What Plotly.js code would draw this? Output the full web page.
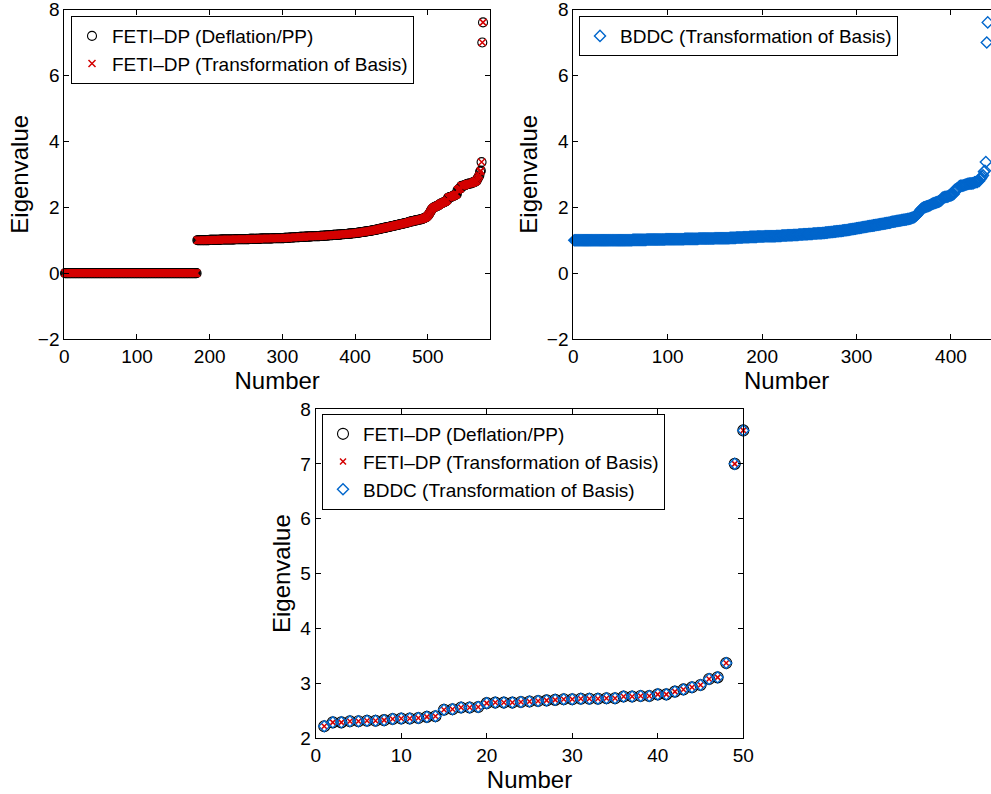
<!DOCTYPE html>
<html><head><meta charset="utf-8">
<script src="https://cdn.plot.ly/plotly-3.0.1.min.js"></script>
<style>html,body{margin:0;padding:0;overflow:hidden;background:#fff}#plot{width:1000px;height:794px}</style>
</head><body><div id="plot"></div>
<script>
// ---- data ----
// FETI-DP: zero eigenvalues at the start of the spectrum
const fetiZeroEigs = [
0,0,0,0,0,0,0,0,0,0, 0,0,0,0,0,0,0,0,0,0, 0,0,0,0,0,0,0,0,0,0, 0,0,0,0,0,0,0,0,0,0,
0,0,0,0,0,0,0,0,0,0, 0,0,0,0,0,0,0,0,0,0, 0,0,0,0,0,0,0,0,0,0, 0,0,0,0,0,0,0,0,0,0,
0,0,0,0,0,0,0,0,0,0, 0,0,0,0,0,0,0,0,0,0, 0,0,0,0,0,0,0,0,0,0, 0,0,0,0,0,0,0,0,0,0,
0,0,0,0,0,0,0,0,0,0, 0,0,0,0,0,0,0,0,0,0, 0,0,0,0,0,0,0,0,0,0, 0,0,0,0,0,0,0,0,0,0,
0,0,0,0,0,0,0,0,0,0, 0,0,0,0,0,0,0,0,0,0, 0,0
];
// BDDC: additional eigenvalues equal to one at the start of its spectrum
const bddcUnitEigs = [
1.00,1.00,1.00,1.00,1.00,1.00,1.00,1.00,1.00,1.00,
1.00,1.00,1.00,1.00,1.00,1.00,1.00,1.00,1.00,1.00,
1.00,1.00,1.00,1.00,1.00,1.00,1.00,1.00,1.00,1.00,
1.00,1.00,1.00,1.00,1.00,1.00,1.00,1.00,1.00,1.00,
1.00,1.00,1.00,1.00,1.00
];
// common (nonzero) part of both spectra, below the 50 largest
const sharedEigs = [
1.00,1.00,1.00,1.00,1.00,1.00,1.00,1.00,1.00,1.00,1.00,1.00,1.00,1.00,1.00,1.00,1.00,
1.01,1.01,1.01,1.01,1.01,1.01,1.01,1.01,1.01,1.01,
1.01,1.01,1.01,1.01,1.01,1.02,1.02,1.02,1.02,1.02,
1.02,1.02,1.02,1.02,1.02,1.02,1.02,1.02,1.02,1.02,
1.02,1.02,1.02,1.02,1.02,1.03,1.03,1.03,1.03,1.03,
1.03,1.03,1.03,1.03,1.03,1.03,1.03,1.03,1.03,1.03,
1.03,1.03,1.03,1.03,1.03,1.04,1.04,1.04,1.04,1.04,
1.04,1.04,1.04,1.04,1.04,1.04,1.04,1.04,1.04,1.04,
1.05,1.05,1.05,1.05,1.05,1.05,1.05,1.05,1.05,1.05,
1.05,1.05,1.05,1.05,1.05,1.05,1.05,1.06,1.06,1.06,
1.06,1.06,1.06,1.06,1.06,1.06,1.06,1.06,1.06,1.06,
1.06,1.06,1.06,1.07,1.07,1.07,1.07,1.07,1.07,1.07,
1.08,1.08,1.08,1.08,1.08,1.08,1.08,1.09,1.09,1.09,
1.09,1.09,1.09,1.09,1.10,1.10,1.10,1.10,1.10,1.10,
1.10,1.10,1.11,1.11,1.11,1.11,1.11,1.11,1.11,1.11,
1.12,1.12,1.12,1.12,1.12,1.12,1.12,1.12,1.12,1.12,
1.12,1.12,1.13,1.13,1.13,1.13,1.13,1.13,1.14,1.14,
1.14,1.14,1.14,1.14,1.15,1.15,1.15,1.15,1.15,1.15,
1.16,1.16,1.16,1.16,1.16,1.16,1.17,1.17,1.17,1.17,
1.17,1.18,1.18,1.18,1.18,1.18,1.19,1.19,1.19,1.19,
1.19,1.20,1.20,1.20,1.20,1.20,1.21,1.21,1.21,1.21,
1.21,1.22,1.22,1.22,1.23,1.23,1.23,1.24,1.24,1.24,
1.25,1.25,1.25,1.26,1.26,1.26,1.27,1.27,1.27,1.28,
1.28,1.28,1.29,1.29,1.30,1.30,1.30,1.31,1.31,1.32,
1.32,1.33,1.33,1.34,1.34,1.35,1.35,1.36,1.36,1.37,
1.37,1.38,1.38,1.39,1.39,1.40,1.40,1.41,1.41,1.42,
1.42,1.43,1.43,1.44,1.44,1.45,1.45,1.46,1.46,1.47,
1.47,1.48,1.48,1.49,1.49,1.50,1.50,1.51,1.51,1.52,
1.52,1.53,1.53,1.54,1.55,1.56,1.56,1.57,1.57,1.58,
1.58,1.59,1.59,1.60,1.60,1.61,1.61,1.62,1.62,1.63,
1.63,1.64,1.64,1.65,1.66,1.67,1.68,1.69,1.70,1.72,
1.74,1.77,1.80,1.84,1.88,1.92,1.95,1.97,1.99,2.00,
2.01,2.02,2.03,2.04,2.05,2.06,2.08,2.10,2.11,2.12,
2.13,2.14,2.15,2.16,2.17,2.18,2.20
];
// the 50 largest eigenvalues (identical for all three methods)
const top50Eigs = [
2.22,2.29,2.29,2.31,2.31,2.32,2.32,2.33,2.35,2.36,
2.36,2.37,2.39,2.40,2.52,2.53,2.56,2.56,2.57,2.64,
2.65,2.65,2.65,2.66,2.67,2.68,2.69,2.70,2.71,2.71,
2.72,2.72,2.72,2.73,2.73,2.76,2.76,2.77,2.77,2.80,
2.80,2.85,2.89,2.93,2.97,3.08,3.11,3.37,7.00,7.61
];
const seriesNames = ['FETI\u2013DP (Deflation/PP)', 'FETI\u2013DP (Transformation of Basis)', 'BDDC (Transformation of Basis)'];
const xTitle = 'Number', yTitle = 'Eigenvalue';

// ---- assemble ----
function numbering(n){ const a=[]; for(let i=1;i<=n;i++) a.push(i); return a; }
const fetiEigs = fetiZeroEigs.concat(sharedEigs, top50Eigs);
const bddcEigs = bddcUnitEigs.concat(sharedEigs, top50Eigs);
const fetiN = numbering(fetiEigs.length);
const bddcN = numbering(bddcEigs.length);
const topN = numbering(top50Eigs.length);

const FONT = 'Liberation Sans, Arial, Helvetica, sans-serif';
const RED = '#D40000', BLUE = '#0066CC';

function circ(x,y,ax,ay,leg,size){ return {x:x,y:y,xaxis:ax,yaxis:ay,legend:leg,type:'scatter',mode:'markers',name:seriesNames[0],cliponaxis:false,
  marker:{symbol:'circle-open',size:size,color:'black',line:{color:'black',width:1.1}}}; }
function cross(x,y,ax,ay,leg,size){ return {x:x,y:y,xaxis:ax,yaxis:ay,legend:leg,type:'scatter',mode:'markers',name:seriesNames[1],cliponaxis:false,
  marker:{symbol:'x-thin-open',size:size,color:RED,line:{color:RED,width:1.5}}}; }
function diam(x,y,ax,ay,leg,size){ return {x:x,y:y,xaxis:ax,yaxis:ay,legend:leg,type:'scatter',mode:'markers',name:seriesNames[2],cliponaxis:false,
  marker:{symbol:'diamond-open',size:size,color:BLUE,line:{color:BLUE,width:1.4}}}; }

const traces = [
  circ(fetiN, fetiEigs, 'x', 'y', 'legend', 9),
  cross(fetiN, fetiEigs, 'x', 'y', 'legend', 7),
  diam(bddcN, bddcEigs, 'x2', 'y2', 'legend2', 8.5),
  circ(topN, top50Eigs, 'x3', 'y3', 'legend3', 11),
  cross(topN, top50Eigs, 'x3', 'y3', 'legend3', 6),
  diam(topN, top50Eigs, 'x3', 'y3', 'legend3', 8.5)
];

function ax(extra){ return Object.assign({showline:true,linecolor:'black',linewidth:1,mirror:'ticks',ticks:'inside',ticklen:5,tickwidth:1,
  tickcolor:'black',showgrid:false,zeroline:false,automargin:false,ticklabeloverflow:'allow',
  tickfont:{family:FONT,size:19,color:'black'}}, extra); }
function xt(){ return {text:xTitle,font:{family:FONT,size:24,color:'black'},standoff:0}; }
function yt(){ return {text:yTitle,font:{family:FONT,size:24,color:'black'},standoff:2}; }
function leg(x,y){ return {x:x,y:y,xanchor:'left',yanchor:'top',bgcolor:'white',bordercolor:'black',borderwidth:1,
  font:{family:FONT,size:19,color:'black'},tracegroupgap:0}; }

const layout = {
  width:1000, height:794, margin:{l:0,r:0,t:0,b:0}, paper_bgcolor:'white', plot_bgcolor:'white',
  font:{family:FONT,color:'black'},
  xaxis: ax({domain:[0.0643,0.490], range:[0,585.6], dtick:100, tick0:0, anchor:'y', title:xt()}),
  yaxis: ax({domain:[0.5730,0.988], range:[-2,8], dtick:2, tick0:0, anchor:'x', title:yt()}),
  xaxis2: ax({domain:[0.5733,1.0], range:[0,452], dtick:100, tick0:0, anchor:'y2', title:xt()}),
  yaxis2: ax({domain:[0.5730,0.988], range:[-2,8], dtick:2, tick0:0, anchor:'x2', title:yt()}),
  xaxis3: ax({domain:[0.3157,0.7433], range:[0,50], dtick:10, tick0:0, anchor:'y3', title:xt()}),
  yaxis3: ax({domain:[0.0702,0.4849], range:[2,8], dtick:1, tick0:0, anchor:'x3', title:yt()}),
  legend: leg(0.071, 0.9798),
  legend2: leg(0.579, 0.9798),
  legend3: leg(0.322, 0.4786),
  showlegend:true
};
Plotly.newPlot('plot', traces, layout, {displayModeBar:false, staticPlot:true});
</script></body></html>
